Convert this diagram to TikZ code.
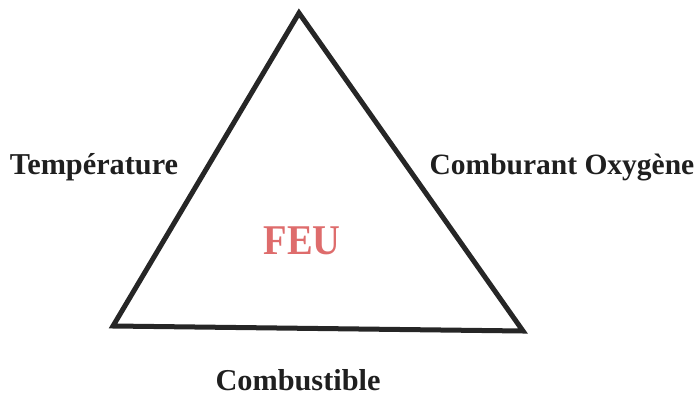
\documentclass[tikz,border=0pt]{standalone}
\usepackage{fontspec}
\setmainfont{Liberation Serif}
\begin{document}
\begin{tikzpicture}[x=1pt,y=-1pt,
  lbl/.style={font=\fontsize{29.5}{31}\selectfont\bfseries, text=black!88, inner sep=0pt},
  lblb/.style={lbl, font=\fontsize{30.3}{32}\selectfont\bfseries},
  feu/.style={font=\fontsize{38.5}{40}\selectfont\bfseries, text=feured, inner sep=0pt, yscale=1.1},
  side/.style={draw=black!85, line width=5pt, line join=miter}]
\definecolor{feured}{RGB}{222,108,108}
\useasboundingbox (0,0) rectangle (696,396);
\coordinate (top) at (299,13);
\coordinate (bl) at (113,326);
\coordinate (br) at (523,331);
\draw[side] (top) -- (bl) -- (br) -- cycle;
\node[lblb] (temp) at (94,167) {Température};
\node[lbl] (comb) at (562,168) {Comburant Oxygène};
\node[lblb] (cbst) at (298,380) {Combustible};
\node[feu] (feu) at (302,241) {FEU};
\end{tikzpicture}
\end{document}
